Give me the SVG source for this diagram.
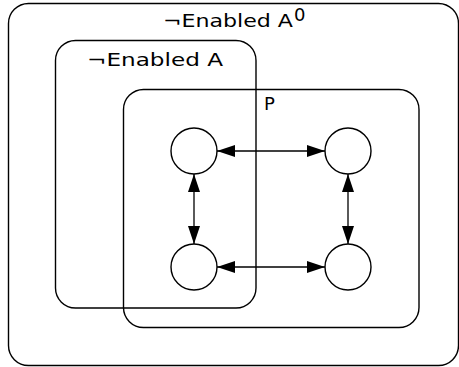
<svg xmlns="http://www.w3.org/2000/svg" width="459" height="367" viewBox="0 0 459 367">
  <style>
    .region { fill: none; stroke: #000; stroke-width: 1.4; }
    .state { fill: #fff; stroke: #000; stroke-width: 1.4; }
    .link { stroke: #000; stroke-width: 1.3; fill: none; marker-start: url(#head); marker-end: url(#head); }
    .label { font-family: "DejaVu Sans", "Liberation Sans", sans-serif; font-size: 18px; fill: #000; }
  </style>
  <defs>
    <marker id="head" viewBox="0 0 18 12" refX="18" refY="6" markerWidth="18" markerHeight="12" markerUnits="userSpaceOnUse" orient="auto-start-reverse">
      <path d="M0,0 L18,6 L0,12 Z" fill="#000"/>
    </marker>
  </defs>
  <rect width="459" height="367" fill="#fff"/>

  <g id="not-enabled-a0">
    <rect class="region" x="8.5" y="3.5" width="450" height="362" rx="20"/>
    <text class="label" x="163" y="27" textLength="130" lengthAdjust="spacingAndGlyphs">¬Enabled A</text>
    <text class="label" x="294" y="21" font-size="13">0</text>
  </g>

  <g id="not-enabled-a">
    <rect class="region" x="55.5" y="40.5" width="200.5" height="267.5" rx="20"/>
    <text class="label" x="87" y="66" textLength="136" lengthAdjust="spacingAndGlyphs">¬Enabled A</text>
  </g>

  <g id="p">
    <rect class="region" x="123.5" y="89.5" width="295.5" height="238" rx="20"/>
    <text class="label" x="264" y="110">P</text>
  </g>

  <g id="connectors">
    <line class="link" x1="217" y1="151" x2="325" y2="151"/>
    <line class="link" x1="217" y1="267" x2="325" y2="267"/>
    <line class="link" x1="194" y1="174" x2="194" y2="244"/>
    <line class="link" x1="348" y1="174" x2="348" y2="244"/>
  </g>

  <g id="s1"><circle class="state" cx="194" cy="151" r="23"/></g>
  <g id="s2"><circle class="state" cx="348" cy="151" r="23"/></g>
  <g id="s3"><circle class="state" cx="194" cy="267" r="23"/></g>
  <g id="s4"><circle class="state" cx="348" cy="267" r="23"/></g>
</svg>
